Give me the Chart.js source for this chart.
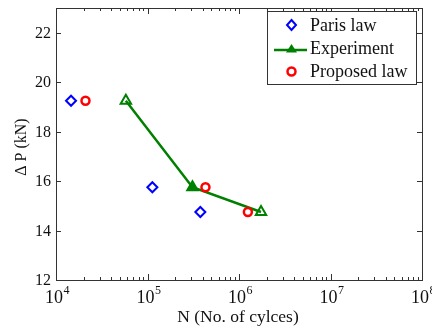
<!DOCTYPE html>
<html>
<head>
<meta charset="utf-8">
<script src="https://cdn.jsdelivr.net/npm/chart.js@4"></script>
<style>
  html, body { margin: 0; padding: 0; background: #fff; }
  #wrap { width: 432px; height: 331px; }
</style>
</head>
<body>
<div id="wrap"><canvas id="c" width="432" height="331"></canvas></div>
<script>
// values
const parisN = [1.46e4, 1.13e5, 3.78e5];
const parisP = [19.25, 15.75, 14.75];
const experimentN = [5.8e4, 3.1e5, 1.74e6];
const experimentP = [19.25, 15.75, 14.75];
const proposedN = [2.1e4, 4.3e5, 1.25e6];
const proposedP = [19.25, 15.75, 14.75];

const xDecades = [4, 5, 6, 7, 8];
const yTicks = [12, 14, 16, 18, 20, 22];
const legendLabels = ['Paris law', 'Experiment', 'Proposed law'];

const SERIF = '"Liberation Serif", "Times New Roman", serif';
const AXIS = '#333';
const INK = '#111';
const GREEN = '#008000';

const pts = (xs, ys) => xs.map((v, i) => ({ x: v, y: ys[i] }));

// frame, inward ticks, labels and legend (MATLAB look)
const decorations = {
  id: 'decorations',
  afterDraw(chart) {
    const { ctx, chartArea: a, scales: { x, y } } = chart;
    ctx.save();
    ctx.strokeStyle = AXIS;
    ctx.lineWidth = 1;
    ctx.strokeRect(Math.round(a.left) + 0.5, Math.round(a.top) + 0.5,
      Math.round(a.right - a.left), Math.round(a.bottom - a.top));

    // x ticks (log, with minors)
    ctx.beginPath();
    for (let d = xDecades[0]; d < xDecades[xDecades.length - 1]; d++) {
      for (let k = 1; k <= 9; k++) {
        const px = Math.round(x.getPixelForValue(k * Math.pow(10, d))) + 0.5;
        const len = k === 1 ? 6 : 3;
        ctx.moveTo(px, a.bottom); ctx.lineTo(px, a.bottom - len);
        ctx.moveTo(px, a.top); ctx.lineTo(px, a.top + len);
      }
    }
    yTicks.forEach(v => {
      const py = Math.round(y.getPixelForValue(v)) + 0.5;
      ctx.moveTo(a.left, py); ctx.lineTo(a.left + 5, py);
      ctx.moveTo(a.right, py); ctx.lineTo(a.right - 5, py);
    });
    ctx.stroke();

    // y tick labels
    ctx.fillStyle = INK;
    ctx.font = '16px ' + SERIF;
    ctx.textAlign = 'right';
    ctx.textBaseline = 'middle';
    yTicks.forEach(v => ctx.fillText(String(v), a.left - 5, y.getPixelForValue(v) + 1));

    // x tick labels 10^n
    xDecades.forEach(d => {
      const px = x.getPixelForValue(Math.pow(10, d));
      ctx.font = '18px ' + SERIF;
      const wb = ctx.measureText('10').width;
      ctx.font = '12px ' + SERIF;
      const we = ctx.measureText(String(d)).width;
      const x0 = px - (wb + we) / 2 + 1;
      ctx.textAlign = 'left';
      ctx.textBaseline = 'alphabetic';
      ctx.font = '18px ' + SERIF;
      ctx.fillText('10', x0, a.bottom + 23);
      ctx.font = '12px ' + SERIF;
      ctx.fillText(String(d), x0 + wb + 0.5, a.bottom + 14);
    });

    // axis titles
    ctx.font = '17.5px ' + SERIF;
    ctx.textAlign = 'center';
    ctx.textBaseline = 'alphabetic';
    ctx.fillText('N (No. of cylces)', (a.left + a.right) / 2 - 1, 322);
    ctx.save();
    ctx.translate(26, (a.top + a.bottom) / 2 + 3);
    ctx.rotate(-Math.PI / 2);
    ctx.font = '16px ' + SERIF;
    ctx.fillText('\u0394 P (kN)', 0, 0);
    ctx.restore();

    // legend
    const lx = 267, ly = 11, lw = 149, lh = 73;
    ctx.fillStyle = '#fff';
    ctx.fillRect(lx, ly, lw, lh);
    ctx.strokeStyle = AXIS;
    ctx.strokeRect(lx + 0.5, ly + 0.5, lw, lh);
    const rows = [25, 48.5, 71.5];
    const mx = 291.5;
    // Paris law diamond
    ctx.lineWidth = 2;
    ctx.strokeStyle = '#0000ff';
    ctx.beginPath();
    ctx.moveTo(mx, rows[0] - 5); ctx.lineTo(mx + 4.5, rows[0]);
    ctx.lineTo(mx, rows[0] + 5); ctx.lineTo(mx - 4.5, rows[0]); ctx.closePath();
    ctx.stroke();
    // Experiment line + triangle
    ctx.strokeStyle = GREEN;
    ctx.lineWidth = 2.5;
    ctx.beginPath();
    ctx.moveTo(274, rows[1] + 1.5); ctx.lineTo(307, rows[1] + 1.5);
    ctx.stroke();
    ctx.fillStyle = GREEN;
    ctx.beginPath();
    ctx.moveTo(mx, rows[1] - 4.5); ctx.lineTo(mx + 5.5, rows[1] + 4);
    ctx.lineTo(mx - 5.5, rows[1] + 4); ctx.closePath();
    ctx.fill();
    // Proposed law circle
    ctx.strokeStyle = '#ff0000';
    ctx.lineWidth = 2.5;
    ctx.beginPath();
    ctx.arc(mx, rows[2], 4, 0, Math.PI * 2);
    ctx.stroke();

    ctx.fillStyle = INK;
    ctx.font = '18px ' + SERIF;
    ctx.textAlign = 'left';
    ctx.textBaseline = 'middle';
    legendLabels.forEach((t, i) => ctx.fillText(t, 310, rows[i] + 1));
    ctx.restore();
  }
};

new Chart(document.getElementById('c'), {
  type: 'scatter',
  data: {
    datasets: [
      {
        label: legendLabels[2],
        data: pts(proposedN, proposedP),
        pointStyle: 'circle',
        pointRadius: 4,
        borderWidth: 2.5,
        borderColor: '#ff0000',
        backgroundColor: 'rgba(255,255,255,0)',
        order: 1
      },
      {
        label: legendLabels[1],
        data: pts(experimentN, experimentP),
        showLine: true,
        borderColor: GREEN,
        borderWidth: 2.5,
        pointStyle: 'triangle',
        pointRadius: 6,
        pointBorderWidth: 2,
        pointBorderColor: GREEN,
        pointBackgroundColor: ['rgba(255,255,255,0)', GREEN, 'rgba(255,255,255,0)'],
        order: 2
      },
      {
        label: legendLabels[0],
        data: pts(parisN, parisP),
        pointStyle: 'rectRot',
        pointRadius: 5,
        borderWidth: 2,
        borderColor: '#0000ff',
        backgroundColor: 'rgba(255,255,255,0)',
        order: 3
      }
    ]
  },
  options: {
    responsive: false,
    animation: false,
    layout: { padding: { top: 6, right: 10, left: 0, bottom: 0 } },
    plugins: { legend: { display: false }, tooltip: { enabled: false } },
    scales: {
      x: {
        type: 'logarithmic',
        min: Math.pow(10, xDecades[0]),
        max: Math.pow(10, xDecades[xDecades.length - 1]),
        grid: { display: false },
        border: { display: false },
        ticks: { display: false },
        afterFit: s => { s.height = 51; }
      },
      y: {
        min: 12,
        max: 23,
        grid: { display: false },
        border: { display: false },
        ticks: { display: false },
        afterFit: s => { s.width = 56; }
      }
    }
  },
  plugins: [decorations]
});
</script>
</body>
</html>
